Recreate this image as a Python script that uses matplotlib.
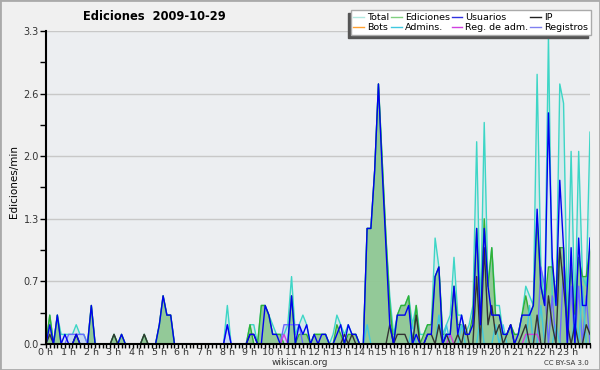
import numpy as np
import matplotlib
matplotlib.use('Agg')
from matplotlib import pyplot as plt
from matplotlib.lines import Line2D
from matplotlib.patches import Rectangle

# edits per minute, one value every 10 minutes (00:00 .. 24:00)
total = [
    0, 0.3, 0, 0.3, 0.1, 0.1,
    0.1, 0.1, 0.2, 0.1, 0.1, 0,
    0.4, 0, 0, 0, 0, 0,
    0.1, 0, 0.1, 0, 0, 0,
    0, 0, 0.1, 0, 0, 0,
    0.2, 0.5, 0.3, 0.3, 0, 0,
    0, 0, 0, 0, 0, 0,
    0, 0, 0, 0, 0, 0,
    0.4, 0, 0, 0, 0, 0,
    0.2, 0.2, 0, 0.4, 0.4, 0.3,
    0.2, 0.1, 0.1, 0.1, 0.2, 0.7,
    0.1, 0.2, 0.3, 0.2, 0, 0.1,
    0.1, 0.1, 0.1, 0, 0.1, 0.3,
    0.2, 0.1, 0.2, 0.1, 0.1, 0,
    0, 1.2, 1.2, 1.8, 2.7, 1.9,
    1.1, 0.5, 0.1, 0.3, 0.4, 0.4,
    0.5, 0.2, 0.4, 0.1, 0.1, 0.2,
    0.2, 1.1, 0.8, 0.1, 0.2, 0.3,
    0.9, 0.3, 0.3, 0.1, 0.2, 0.4,
    2.1, 0.3, 2.3, 0.6, 1.0, 0.4,
    0.4, 0.1, 0.1, 0.2, 0.1, 0.1,
    0.3, 0.6, 0.5, 0.4, 2.8, 0.8,
    0.4, 3.2, 0.5, 0.4, 2.7, 2.5,
    0.3, 2.0, 0.3, 2.0, 0.7, 0.6,
    2.2]

ediciones = [
    0, 0.3, 0, 0.3, 0, 0,
    0, 0, 0.1, 0, 0, 0,
    0.4, 0, 0, 0, 0, 0,
    0.1, 0, 0.1, 0, 0, 0,
    0, 0, 0.1, 0, 0, 0,
    0.2, 0.5, 0.3, 0.3, 0, 0,
    0, 0, 0, 0, 0, 0,
    0, 0, 0, 0, 0, 0,
    0, 0, 0, 0, 0, 0,
    0.2, 0, 0, 0.4, 0.4, 0.3,
    0.1, 0.1, 0.1, 0, 0, 0.5,
    0, 0.1, 0.1, 0.1, 0, 0.1,
    0.1, 0.1, 0.1, 0, 0, 0.2,
    0.1, 0, 0.1, 0.1, 0.1, 0,
    0, 1.2, 1.2, 1.8, 2.7, 1.9,
    1.1, 0.4, 0, 0.3, 0.4, 0.4,
    0.5, 0, 0.4, 0, 0.1, 0.2,
    0.2, 0.7, 0.8, 0.1, 0.1, 0.1,
    0.6, 0.2, 0.2, 0.1, 0.1, 0.3,
    1.2, 0.2, 1.3, 0.6, 1.0, 0.3,
    0.3, 0.1, 0.1, 0.2, 0.1, 0.1,
    0.3, 0.5, 0.3, 0.4, 1.3, 0.6,
    0.4, 0.8, 0.8, 0.5, 1.0, 1.0,
    0.2, 0.8, 0.3, 0.9, 0.7, 0.7,
    1.0]

usuarios = [
    0, 0.2, 0, 0.3, 0, 0.1,
    0, 0, 0.1, 0, 0, 0,
    0.4, 0, 0, 0, 0, 0,
    0, 0, 0.1, 0, 0, 0,
    0, 0, 0, 0, 0, 0,
    0.2, 0.5, 0.3, 0.3, 0, 0,
    0, 0, 0, 0, 0, 0,
    0, 0, 0, 0, 0, 0,
    0.2, 0, 0, 0, 0, 0,
    0.1, 0.1, 0, 0, 0.4, 0.3,
    0.1, 0.1, 0, 0, 0, 0.5,
    0, 0.2, 0.1, 0.2, 0, 0.1,
    0, 0.1, 0.1, 0, 0, 0.1,
    0.2, 0, 0.2, 0.1, 0.1, 0,
    0, 1.2, 1.2, 1.8, 2.7, 1.8,
    1.0, 0.2, 0, 0.3, 0.3, 0.3,
    0.4, 0, 0.1, 0, 0, 0.1,
    0.1, 0.7, 0.8, 0, 0.1, 0.1,
    0.6, 0.1, 0.3, 0.1, 0.1, 0.2,
    1.2, 0.2, 1.2, 0.6, 0.3, 0.3,
    0.3, 0.1, 0.1, 0.2, 0, 0.1,
    0.3, 0.3, 0.3, 0.4, 1.4, 0.6,
    0.4, 2.4, 0.9, 0.4, 1.7, 1.0,
    0, 1.0, 0, 1.1, 0.4, 0.4,
    1.1]

ip = [
    0, 0.1, 0, 0, 0, 0,
    0, 0, 0.1, 0, 0, 0,
    0, 0, 0, 0, 0, 0,
    0.1, 0, 0, 0, 0, 0,
    0, 0, 0.1, 0, 0, 0,
    0, 0, 0, 0, 0, 0,
    0, 0, 0, 0, 0, 0,
    0, 0, 0, 0, 0, 0,
    0, 0, 0, 0, 0, 0,
    0.1, 0.1, 0, 0, 0, 0,
    0, 0, 0, 0, 0, 0,
    0, 0, 0, 0, 0, 0,
    0, 0, 0, 0, 0, 0,
    0, 0.1, 0, 0.1, 0, 0,
    0, 0, 0, 0, 0, 0,
    0, 0.2, 0, 0.1, 0.1, 0.1,
    0, 0, 0.3, 0, 0, 0.1,
    0.1, 0, 0.2, 0, 0.1, 0,
    0, 0.1, 0, 0.2, 0, 0,
    0.7, 0, 1.0, 0.2, 0.4, 0.1,
    0.2, 0, 0.1, 0.2, 0, 0,
    0.1, 0.2, 0, 0, 0.3, 0,
    0, 0.5, 0.2, 0, 1.0, 0.6,
    0.2, 0, 0.2, 0, 0, 0.2,
    0.1]

admins = [0] * 145
for i, v in [(85, 0.2), (97, 0.2), (104, 0.3), (106, 0.2), (110, 0.2),
             (115, 0.3), (119, 0.2), (121, 0.2), (128, 0.4), (131, 0.4),
             (135, 0.2), (140, 0.3), (142, 0.6)]:
    admins[i] = v

reg_adm = [0] * 145
for i, v in [(63, 0.1), (107, 0.1), (127, 0.1), (128, 0.1), (129, 0.1), (130, 0.1)]:
    reg_adm[i] = v

registros = [0] * 145
for i, v in [(6, 0.1), (7, 0.1), (8, 0.1), (9, 0.1), (10, 0.1), (48, 0.2),
             (63, 0.2), (64, 0.2), (65, 0.2), (66, 0.2), (67, 0.2),
             (131, 0.8), (132, 0.6), (134, 0.5), (137, 0.8), (139, 0.6),
             (141, 0.6), (143, 0.5)]:
    registros[i] = v

bots = [0] * 145

y_ticks = [0, 0.65, 1.3, 1.95, 2.6, 3.25]
y_labels = ['0.0', '0.7', '1.3', '2.0', '2.6', '3.3']
x_labels = ['%d h' % h for h in range(24)]

x = np.arange(145) / 6.0

fig = plt.figure(figsize=(6, 3.7), dpi=100, facecolor='#f0f0f0')
ax = fig.add_axes([46 / 600, 1 - 344 / 370, 544 / 600, 313 / 370])
ax.set_facecolor('#eceef1')

for yt in y_ticks[1:]:
    ax.axhline(yt, color='#c8c8c8', lw=1, zorder=0.5)

ax.fill_between(x, total, color='#cde8ea', alpha=0.7, lw=0, zorder=1)
ax.fill_between(x, registros, color='#c2d4f4', alpha=0.7, lw=0, zorder=1)
ax.fill_between(x, ediciones, color='#88c48a', alpha=0.85, lw=0, zorder=1.1)

lw = 1.0
ax.plot(x, total, color='#3dd6c6', lw=lw, zorder=2)
ax.plot(x, ediciones, color='#33b033', lw=lw, zorder=2.1)
ax.plot(x, registros, color='#6a6aff', lw=lw, zorder=2.2)
ax.plot(x, admins, color='#40c8e0', lw=lw, zorder=2.2)
ax.plot(x, reg_adm, color='#d040e0', lw=lw, zorder=2.2)
ax.plot(x, bots, color='#ffa030', lw=lw, zorder=2.2)
ax.plot(x, ip, color='#333333', lw=lw, zorder=2.3)
ax.plot(x, usuarios, color='#0000f0', lw=lw, zorder=2.4)

ax.set_xlim(0, 24)
ax.set_ylim(0, 3.25)
for s in ['top', 'right']:
    ax.spines[s].set_visible(False)
for s in ['left', 'bottom']:
    ax.spines[s].set_linewidth(1.5)
    ax.spines[s].set_zorder(3)

ax.set_yticks(y_ticks)
ax.set_yticklabels(y_labels)
ax.set_yticks(np.arange(0.325, 3.25, 0.65), minor=True)
ax.set_xticks(np.arange(24))
ax.set_xticklabels(x_labels)
ax.set_xticks(np.arange(0, 24.01, 1 / 6), minor=True)
ax.tick_params(axis='y', which='both', direction='out', length=4, width=1,
               labelsize=7, labelcolor='#333333', pad=1)
ax.tick_params(axis='x', which='both', direction='out', length=3, width=1,
               labelsize=6.8, labelcolor='#333333', pad=0)

ax.set_ylabel('Ediciones/min', fontsize=7.5)
ax.yaxis.set_label_coords(-0.05, 0.52)

fig.text(0.257, 0.955, 'Ediciones  2009-10-29', fontsize=8.3, fontweight='bold',
         ha='center', va='center')
fig.text(0.5, 0.02, 'wikiscan.org', fontsize=6.5, ha='center', va='center',
         color='#333333')
fig.text(0.982, 0.02, 'CC BY-SA 3.0', fontsize=5, ha='right', va='center',
         color='#333333')

handles = [
    Line2D([], [], color='#b0e8e0', lw=1), Line2D([], [], color='#ffa030', lw=1),
    Line2D([], [], color='#80d080', lw=1), Line2D([], [], color='#40c8e0', lw=1),
    Line2D([], [], color='#3030e0', lw=1), Line2D([], [], color='#d040e0', lw=1),
    Line2D([], [], color='#202020', lw=1), Line2D([], [], color='#8080f0', lw=1),
]
labels = ['Total', 'Bots', 'Ediciones', 'Admins.', 'Usuarios', 'Reg. de adm.',
          'IP', 'Registros']
leg = fig.legend(handles, labels, loc='upper right', bbox_to_anchor=(0.985, 0.972),
                 ncol=4, fontsize=6.8, frameon=True, fancybox=False,
                 shadow={'color': '#555555', 'alpha': 1, 'ox': -2, 'oy': -2},
                 handlelength=1.1, handletextpad=0.35, columnspacing=0.2,
                 labelspacing=0.1, borderpad=0.3, borderaxespad=0)
leg.get_frame().set_edgecolor('#aaaaaa')
leg.get_frame().set_linewidth(1)

fig.patches.append(Rectangle((0, 0), 1, 1, transform=fig.transFigure,
                             fill=False, edgecolor='#aaaaaa', lw=2))

fig.savefig('out.png', dpi=100, facecolor=fig.get_facecolor())
